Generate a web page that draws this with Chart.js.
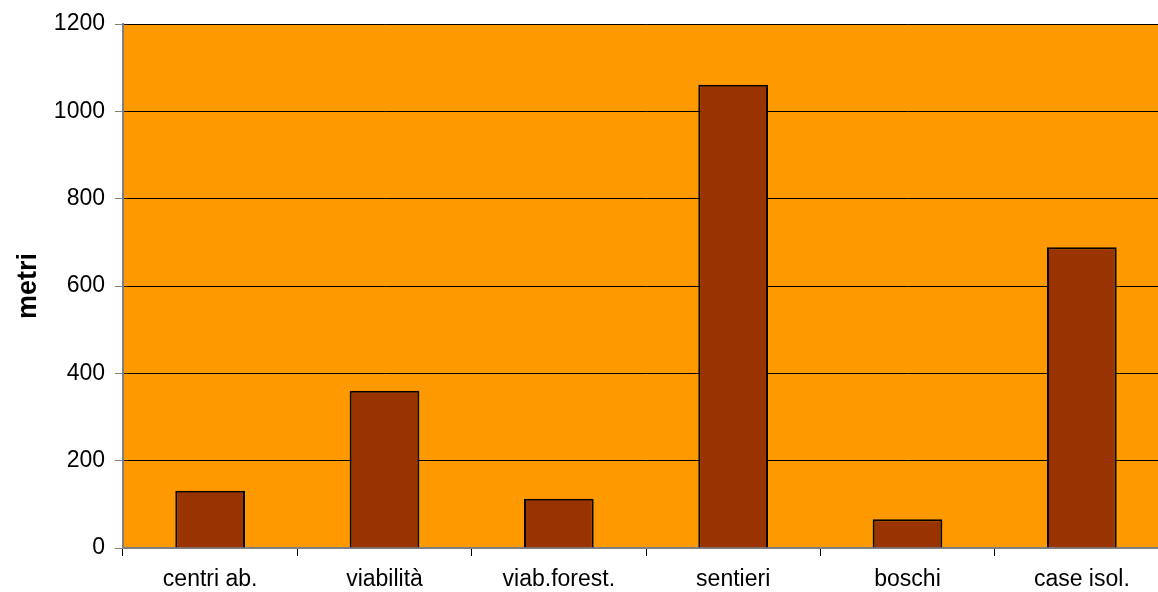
<!DOCTYPE html>
<html>
<head>
<meta charset="utf-8">
<script src="https://cdn.jsdelivr.net/npm/chart.js@4"></script>
<style>
  html, body { margin: 0; padding: 0; background: #ffffff; overflow: hidden; }
  #wrap { position: relative; width: 1169px; height: 592px; }
</style>
</head>
<body>
<div id="wrap"><canvas id="chart"></canvas></div>
<script>
// Lunghezze in metri per categoria
const categories = ['centri ab.', 'viabilità', 'viab.forest.', 'sentieri', 'boschi', 'case isol.'];
const metri = [131, 360, 113, 1061, 66, 689];
const yTicks = [0, 200, 400, 600, 800, 1000, 1200];

const FONT = '"Liberation Sans", Arial, Helvetica, sans-serif';

// Fills the plot area with the orange backdrop before anything else is drawn
const plotBackground = {
  id: 'plotBackground',
  beforeDraw(chart) {
    const { ctx, chartArea: a } = chart;
    ctx.save();
    ctx.fillStyle = '#FF9900';
    ctx.fillRect(a.left, a.top, a.right - a.left, a.bottom - a.top);
    ctx.restore();
  }
};

new Chart(document.getElementById('chart'), {
  type: 'bar',
  data: {
    labels: categories,
    datasets: [{
      data: metri,
      backgroundColor: '#993300',
      borderColor: '#000000',
      borderWidth: 2,
      categoryPercentage: 1.0,
      barPercentage: 0.4
    }]
  },
  options: {
    responsive: true,
    maintainAspectRatio: false,
    animation: false,
    events: [],
    layout: { padding: { top: 24, right: 0, bottom: 0, left: 0 } },
    plugins: {
      legend: { display: false },
      tooltip: { enabled: false }
    },
    scales: {
      x: {
        offset: true,
        grid: {
          offset: true,
          drawOnChartArea: false,
          drawTicks: true,
          tickLength: 8,
          tickColor: '#000000',
          lineWidth: 1
        },
        border: { display: true, color: '#808080', width: 2 },
        ticks: {
          color: '#000000',
          font: { family: FONT, size: 23 },
          padding: 10,
          maxRotation: 0,
          autoSkip: false
        },
        afterFit(scale) { scale.height = 44; }
      },
      y: {
        min: 0,
        max: 1200,
        afterBuildTicks(scale) { scale.ticks = yTicks.map(v => ({ value: v })); },
        grid: {
          color: '#000000',
          lineWidth: 1,
          drawTicks: true,
          tickLength: 8,
          tickColor: '#808080'
        },
        border: { display: true, color: '#808080', width: 2 },
        ticks: {
          color: '#000000',
          font: { family: FONT, size: 23 },
          padding: 10,
          callback: (v) => String(v)
        },
        title: {
          display: true,
          text: 'metri',
          color: '#000000',
          font: { family: FONT, size: 27, weight: 'bold' },
          padding: { top: 12, bottom: 0 }
        },
        afterFit(scale) { scale.width = 123; }
      }
    }
  },
  plugins: [plotBackground]
});
</script>
</body>
</html>
